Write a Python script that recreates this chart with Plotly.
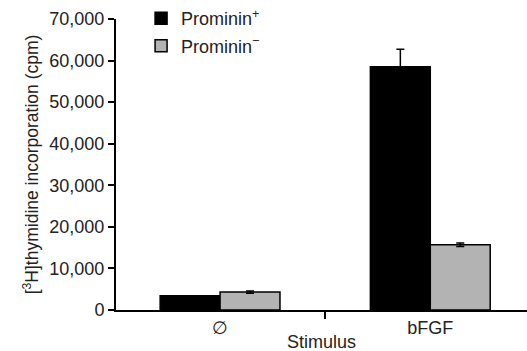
import plotly.graph_objects as go

categories = ["\u2205", "bFGF"]
pos_values = [3400, 58500]
pos_err = [0, 4200]
neg_values = [4300, 15700]
neg_err = [300, 400]
series_names = ["Prominin<sup>+</sup>", "Prominin<sup>\u2212</sup>"]
y_ticks = [0, 10000, 20000, 30000, 40000, 50000, 60000, 70000]
x_title = "Stimulus"
y_title = "[<sup>3</sup>H]thymidine incorporation (cpm)"

FONT = "Liberation Sans, Arial, sans-serif"
TXT = "#222222"

fig = go.Figure()
fig.add_trace(go.Bar(
    x=categories, y=pos_values, name=series_names[0],
    marker=dict(color="#000000", line=dict(color="#000000", width=1.5)),
    error_y=dict(type="data", array=pos_err, visible=True, color="#000000", thickness=1.5, width=4),
    legendgroup="a",
))
fig.add_trace(go.Bar(
    x=categories, y=neg_values, name=series_names[1],
    marker=dict(color="#b3b3b3", line=dict(color="#000000", width=1.5)),
    error_y=dict(type="data", array=neg_err, visible=True, color="#000000", thickness=1.5, width=4),
    legendgroup="b",
))

fig.add_annotation(text=x_title, xref="paper", yref="paper", x=0.5, y=0,
                   xanchor="center", yanchor="middle", yshift=-32, showarrow=False,
                   font=dict(size=18, color=TXT))

fig.update_layout(
    width=527, height=351,
    margin=dict(l=116, r=0, t=19, b=41, autoexpand=False),
    paper_bgcolor="white", plot_bgcolor="white",
    barmode="group", bargap=0.43, bargroupgap=0,
    font=dict(family=FONT, color=TXT, size=18),
    showlegend=True,
    legend=dict(x=0.061, y=1.065, xanchor="left", yanchor="top",
                bgcolor="rgba(0,0,0,0)", font=dict(size=18, color=TXT),
                tracegroupgap=1, traceorder="grouped"),
    xaxis=dict(
        range=[-0.495, 1.46], showline=True, linecolor="#000000", linewidth=2,
        ticks="outside", tickson="boundaries", ticklen=7, tickwidth=2, tickcolor="#000000",
        showgrid=False, zeroline=False, automargin=False,
        tickfont=dict(size=18, color=TXT),
    ),
    yaxis=dict(
        range=[0, 70000], tickvals=y_ticks, tickformat=",d",
        showline=True, linecolor="#000000", linewidth=2,
        ticks="outside", ticklen=6, tickwidth=2, tickcolor="#000000",
        showgrid=False, zeroline=False, automargin=False,
        tickfont=dict(size=18, color=TXT),
        title=dict(text=y_title, font=dict(size=17.5, color=TXT), standoff=6),
    ),
)

fig.write_html("out.html", config={"displayModeBar": False},
               post_script="document.body.style.margin='0';")
